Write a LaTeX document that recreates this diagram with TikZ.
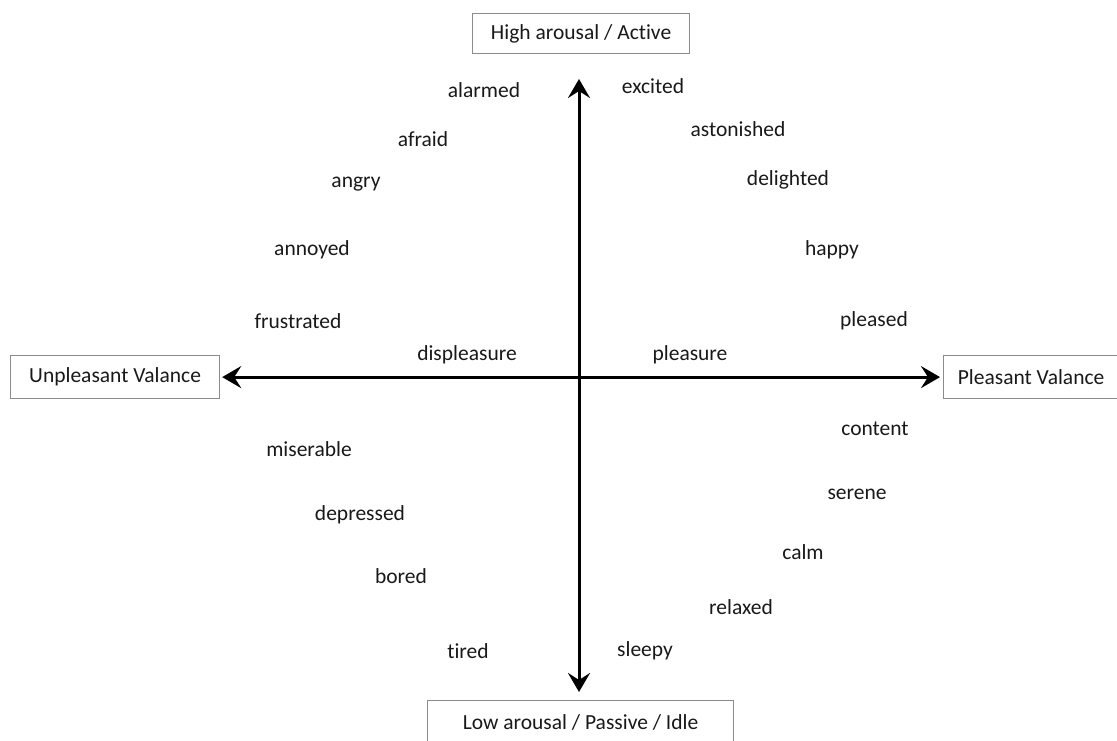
\documentclass[tikz,border=0pt]{standalone}
\usepackage{fontspec}
\setmainfont{Carlito}[Ligatures=NoCommon]
\usetikzlibrary{arrows.meta}
\begin{document}
\begin{tikzpicture}[x=1pt,y=-1pt,
  emo/.style={font=\fontsize{21.5}{24}\selectfont, text=black!90, inner sep=0pt},
  pole/.style={draw=black!45, line width=1.2pt, font=\fontsize{21.5}{24}\selectfont,
               text=black!90, inner sep=0pt, anchor=north west},
  tip/.style={Stealth[length=19pt,width=22pt,inset=7pt]},
  axis/.style={line width=3pt, {Stealth[length=19pt,width=22pt,inset=7pt]}-{Stealth[length=19pt,width=22pt,inset=7pt]}}]
\useasboundingbox (0,0) rectangle (1117,740);
\begin{scope}
\clip (0,0) rectangle (1117,740);
% pole boxes
\node[pole, minimum width=217pt, minimum height=40pt] (top) at (472,13) {High arousal / Active};
\node[pole, minimum width=209pt, minimum height=43pt] (unp) at (10,355) {Unpleasant Valance};
\node[pole, minimum width=175pt, minimum height=43pt] (pls) at (943,355) {Pleasant Valance};
\node[pole, minimum width=306pt, minimum height=44pt] (low) at (427,700) {Low arousal / Passive / Idle};
\end{scope}
% axes
\coordinate (up) at (579,79);
\coordinate (down) at (579,692);
\draw[axis] (down) -- (up);
\draw[axis, shorten <=2pt, shorten >=3pt] (unp.east) -- (pls.west);
% emotion words
\node[emo] (alarmed) at (484,90) {alarmed};
\node[emo] (excited) at (653,86) {excited};
\node[emo] (afraid) at (423,139) {afraid};
\node[emo] (astonished) at (738,129) {astonished};
\node[emo] (angry) at (356,184) {angry};
\node[emo] (delighted) at (788,180) {delighted};
\node[emo] (annoyed) at (312,250) {annoyed};
\node[emo] (happy) at (832,250) {happy};
\node[emo] (frustrated) at (298,321) {frustrated};
\node[emo] (pleased) at (874,321) {pleased};
\node[emo] (displeasure) at (467,355) {displeasure};
\node[emo] (pleasure) at (690,355) {pleasure};
\node[emo] (content) at (875,429) {content};
\node[emo] (miserable) at (309,449) {miserable};
\node[emo] (serene) at (857,494) {serene};
\node[emo] (depressed) at (360,515) {depressed};
\node[emo] (calm) at (803,552) {calm};
\node[emo] (bored) at (401,576) {bored};
\node[emo] (relaxed) at (741,607) {relaxed};
\node[emo] (tired) at (468,651) {tired};
\node[emo] (sleepy) at (645,651) {sleepy};
\end{tikzpicture}
\end{document}
